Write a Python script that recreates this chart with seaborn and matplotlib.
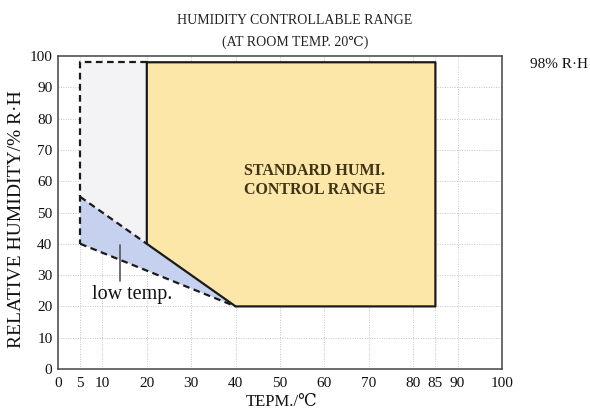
import matplotlib
matplotlib.use("Agg")
import matplotlib.pyplot as plt
import seaborn as sns
import pandas as pd
from matplotlib.ticker import MultipleLocator, FixedLocator

# ---- data ----
std_temp = [20, 85, 85, 40, 20, 20]
std_hum = [98, 98, 20, 20, 40, 98]
ext_temp = [5, 20, 20, 5]          # extended (gray) region
ext_hum = [40, 40, 98, 98]
low_temp = [5, 5, 40, 20]          # low temp. region
low_hum = [55, 40, 20, 40]
dash_outline_t = [20, 5, 5]
dash_outline_h = [98, 98, 40]
dash_lower_t = [5, 40]
dash_lower_h = [40, 20]
dash_upper_t = [5, 20]
dash_upper_h = [55, 40]
x_major = [0, 5, 10, 20, 30, 40, 50, 60, 70, 80, 85, 90, 100]
x_grid = [5, 10, 20, 30, 40, 50, 60, 70, 80, 85, 90]
y_major = list(range(0, 101, 10))

sns.set_theme(style="white")
serif = ["Liberation Serif", "DejaVu Serif", "Noto Sans CJK SC"]
plt.rcParams["font.family"] = serif

fig = plt.figure(figsize=(5.9, 4.12), dpi=100)
ax = fig.add_axes([58 / 590, 1 - 369 / 412, 444 / 590, 313 / 412])

# grid
for gx in x_grid:
    ax.axvline(gx, color="#c4c4c4", lw=0.7, ls=(0, (1, 1.5)), zorder=0)
for gy in range(10, 100, 10):
    ax.axhline(gy, color="#c4c4c4", lw=0.7, ls=(0, (1, 1.5)), zorder=0)

ax.fill(ext_temp, ext_hum, color="#f3f3f5", zorder=1, lw=0)
ax.fill(low_temp, low_hum, color="#c6d0ef", zorder=2, lw=0)
ax.fill(std_temp, std_hum, facecolor="#fce7a8", edgecolor="none", zorder=2)

df_std = pd.DataFrame({"t": std_temp, "h": std_hum})
sns.lineplot(data=df_std, x="t", y="h", sort=False, estimator=None,
             color="#1a1a1a", lw=1.6, ax=ax, zorder=4)
for tt, hh in [(dash_outline_t, dash_outline_h), (dash_lower_t, dash_lower_h),
               (dash_upper_t, dash_upper_h)]:
    d = pd.DataFrame({"t": tt, "h": hh})
    sns.lineplot(data=d, x="t", y="h", sort=False, estimator=None,
                 color="#1a1a1a", lw=1.6, ax=ax, zorder=4,
                 linestyle=(0, (3, 2)))

ax.text(57.8, 63.2, "STANDARD HUMI.", ha="center", va="center",
        fontsize=11.5, fontweight="bold", color="#3f3418", zorder=5)
ax.text(57.8, 57.2, "CONTROL RANGE", ha="center", va="center",
        fontsize=11.5, fontweight="bold", color="#3f3418", zorder=5)
ax.plot([14, 14], [39.5, 28], color="#555555", lw=1.2, zorder=5)
ax.text(7.6, 23.8, "low temp.", ha="left", va="center", fontsize=14.5,
        color="#111111", zorder=5)
ax.text(106.2, 97.2, "98% R·H", ha="left", va="center", fontsize=11,
        color="#111111", clip_on=False)

ax.set_xlim(0, 100)
ax.set_ylim(0, 100)
ax.xaxis.set_major_locator(FixedLocator(x_major))
ax.set_xticklabels([str(v) for v in x_major])
ax.xaxis.set_minor_locator(FixedLocator([15, 25, 35, 45, 55, 65, 75, 95]))
ax.yaxis.set_major_locator(FixedLocator(y_major))
ax.set_yticklabels([str(v) for v in y_major])
ax.yaxis.set_minor_locator(MultipleLocator(5))
ax.tick_params(which="both", direction="in", colors="#333333",
               labelcolor="#111111", labelsize=11, width=1)
ax.tick_params(axis="x", which="major", pad=6)
ax.tick_params(axis="y", which="major", pad=4)
ax.tick_params(which="major", length=4)
ax.tick_params(which="minor", length=2.5)
for s in ax.spines.values():
    s.set_color("#444444")
    s.set_linewidth(1.1)

ax.set_xlabel("TEPM./℃", fontsize=12, color="#111111")
ax.xaxis.set_label_coords((282 - 58) / 444, -(394 - 369) / 313)
ax.set_ylabel("RELATIVE HUMIDITY/% R·H", fontsize=14, color="#111111")
ax.yaxis.set_label_coords((25 - 58) / 444, 0.478)
fig.text(0.5, 1 - 21 / 412, "HUMIDITY CONTROLLABLE RANGE",
         ha="center", va="center", fontsize=10, color="#222222")
fig.text(0.5, 1 - 42 / 412, "(AT ROOM TEMP. 20℃)",
         ha="center", va="center", fontsize=10, color="#222222")

fig.savefig("out.png", dpi=100, facecolor="white")
